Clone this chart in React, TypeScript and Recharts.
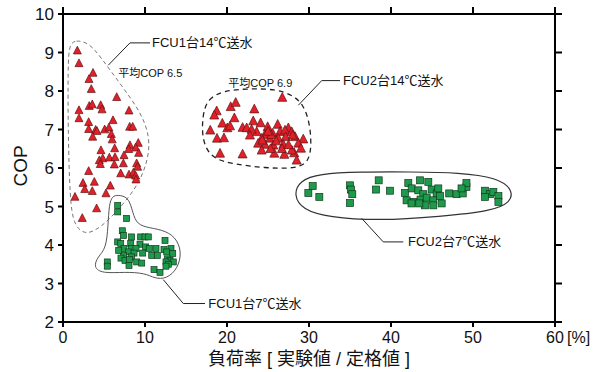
import React from 'react';
import { ScatterChart, Scatter, XAxis, YAxis, ReferenceDot, ReferenceLine } from 'recharts';

type P = { x: number; y: number };
const toPts = (a: number[][]): P[] => a.map(([x, y]) => ({ x, y }));

const xTicks = [0, 10, 20, 30, 40, 50, 60];
const yTicks = [2, 3, 4, 5, 6, 7, 8, 9, 10];

const fcu1_14 = [
  [1.75, 9.05], [1.95, 8.72], [3.66, 8.47], [3.17, 8.31], [3.45, 8.05], [6.55, 7.84], [1.95, 7.5], [1.95, 7.29],
  [3.2, 7.61], [3.57, 7.65], [4.6, 7.63], [4.76, 7.52], [3.13, 7.19], [6.1, 7.24], [8.05, 7.49], [8.13, 7.07],
  [8.5, 7.07], [3.13, 7.01], [3.98, 6.99], [4.14, 6.96], [5.08, 7.0], [5.6, 7.05], [3.62, 6.81], [5.89, 6.88],
  [6.0, 6.74], [4.63, 6.46], [6.3, 6.51], [8.17, 6.59], [9.18, 6.65], [8.86, 6.53], [8.01, 6.49], [7.44, 6.33],
  [9.23, 6.39], [4.84, 6.25], [5.65, 6.27], [6.34, 6.28], [4.43, 6.2], [4.55, 6.1], [6.26, 6.09], [7.36, 6.12],
  [8.98, 6.12], [9.1, 6.03], [3.13, 5.92], [7.04, 5.86], [8.05, 5.83], [8.58, 5.88], [8.86, 5.8], [8.9, 5.7],
  [2.44, 5.61], [3.82, 5.64], [5.77, 5.54], [2.65, 5.45], [3.57, 5.4], [5.24, 5.34], [1.46, 5.25], [2.35, 4.7],
  [4.1, 4.95],
];

const fcu2_14 = [
  [26.74, 7.83], [18.74, 7.48], [18.45, 7.37], [20.45, 7.59], [21.06, 7.7], [23.33, 7.53], [20.9, 7.3], [19.43, 7.16],
  [17.96, 6.98], [20.04, 7.04], [20.37, 7.09], [21.9, 7.05], [22.4, 7.04], [23.2, 7.22], [24.1, 7.17], [24.96, 7.07],
  [26.18, 7.13], [27.48, 7.04], [23.62, 6.94], [24.63, 6.87], [25.57, 6.9], [26.46, 6.94], [27.07, 6.98], [27.89, 6.94],
  [18.78, 6.77], [19.63, 6.78], [24.23, 6.77], [25.24, 6.77], [26.26, 6.77], [27.15, 6.81], [28.3, 6.81], [29.3, 6.75],
  [23.8, 6.64], [24.63, 6.61], [25.65, 6.59], [26.87, 6.61], [28.7, 6.64], [25.77, 6.38], [26.99, 6.35], [28.2, 6.39],
  [19.15, 6.38], [21.9, 6.36], [24.23, 6.46], [29.02, 6.51], [25.4, 6.86], [28.5, 6.2], [27.9, 6.46], [26.0, 6.7],
  [25.0, 6.95], [24.3, 6.72], [26.7, 6.5], [27.5, 6.6], [25.3, 6.5], [28.0, 6.85], [23.0, 7.0], [22.8, 6.85],
];

const fcu2_7 = [
  [30.45, 5.53], [29.92, 5.35], [31.26, 5.25], [35.0, 5.55], [35.12, 5.44], [35.28, 5.32], [35.0, 5.09], [38.5, 5.68],
  [38.17, 5.44], [39.88, 5.41], [42.11, 5.61], [43.54, 5.68], [44.55, 5.64], [41.7, 5.35], [42.52, 5.47], [43.33, 5.42],
  [43.94, 5.32], [44.96, 5.44], [45.57, 5.34], [45.77, 5.47], [41.9, 5.16], [42.8, 5.12], [43.6, 5.18], [44.35, 5.23],
  [45.16, 5.16], [45.98, 5.27], [46.18, 5.08], [45.16, 5.03], [44.15, 5.03], [43.45, 5.08], [42.5, 5.08], [47.1, 5.34],
  [48.0, 5.32], [48.75, 5.34], [49.2, 5.51], [49.2, 5.61], [48.6, 5.47], [51.46, 5.41], [52.07, 5.32], [51.46, 5.25],
  [52.48, 5.38], [53.1, 5.27], [53.1, 5.12],
];

const fcu1_7 = [
  [6.67, 5.03], [6.67, 4.86], [7.76, 4.69], [7.23, 4.37], [7.36, 4.25], [8.37, 4.21], [9.47, 4.21], [10.0, 4.21],
  [10.4, 4.21], [6.67, 4.08], [7.04, 4.04], [8.26, 4.04], [9.39, 4.02], [10.08, 3.95], [12.44, 4.12], [7.44, 3.91],
  [8.37, 3.91], [8.9, 3.91], [10.52, 3.91], [11.34, 3.91], [12.32, 3.88], [13.17, 3.91], [7.96, 3.82], [8.66, 3.79],
  [9.72, 3.79], [10.82, 3.73], [11.5, 3.73], [12.65, 3.82], [13.38, 3.78], [7.36, 3.73], [8.37, 3.69], [7.07, 3.66],
  [7.56, 3.6], [8.09, 3.62], [8.99, 3.56], [9.6, 3.53], [12.72, 3.64], [13.05, 3.6], [13.45, 3.56], [12.56, 3.56],
  [12.84, 3.5], [8.05, 3.47], [5.4, 3.56], [5.4, 3.45], [12.56, 3.45], [11.1, 3.36], [11.83, 3.29], [6.79, 3.86],
];

// outline control points (annotation shapes)
const outline1_14 = [
  [0.75, 9.2], [1.5, 9.33], [3.2, 9.25], [4.7, 8.85], [7.1, 8.15], [9.5, 7.45], [10.6, 6.81], [10.4, 6.25],
  [9.5, 5.72], [8.2, 5.28], [5.7, 4.66], [3.7, 4.33], [2.4, 4.3], [1.3, 4.55], [0.85, 5.16], [0.62, 6.91], [0.6, 8.63],
];
const outline2_14 = [
  [17.0, 7.35], [17.6, 7.8], [19.7, 8.02], [22.8, 8.06], [25.9, 8.05], [28.0, 7.9], [29.3, 7.65], [30.05, 7.2],
  [30.3, 6.67], [30.05, 6.15], [28.3, 5.98], [24.6, 6.0], [20.9, 6.1], [18.1, 6.24], [16.95, 6.72],
];
const outline2_7 = [
  [28.1, 5.3], [28.9, 5.68], [31.2, 5.85], [36.2, 5.9], [42.3, 5.9], [48.4, 5.88], [52.9, 5.75], [54.85, 5.45],
  [54.6, 5.1], [52.2, 4.88], [46.0, 4.74], [38.6, 4.63], [32.4, 4.72], [29.2, 4.92],
];
const outline1_7 = [
  [6.71, 5.3], [7.9, 5.25], [8.4, 4.95], [8.85, 4.58], [10.0, 4.46], [12.1, 4.4], [13.7, 4.22], [14.5, 3.83],
  [14.0, 3.38], [12.6, 3.12], [11.2, 3.13], [10.0, 3.27], [7.56, 3.3], [4.8, 3.26], [3.7, 3.42], [4.25, 3.7],
  [5.25, 3.9], [5.5, 4.51], [5.62, 5.05], [6.0, 5.27],
];

// leader lines
const lead1_14 = [[10.61, 9.25], [8.17, 9.25], [5.52, 8.67]];
const lead2_14 = [[33.78, 8.27], [31.55, 8.27], [28.7, 7.63]];
const lead2_7 = [[41.5, 4.08], [39.06, 4.08], [36.43, 4.69]];
const lead1_7 = [[17.32, 2.48], [14.67, 2.48], [12.23, 3.1]];

const FONT = '"Liberation Sans", Arial, "Noto Sans CJK JP", sans-serif';
const RED = '#e3202a';
const RED_STROKE = '#5e1212';
const GREEN = '#1f9a4c';
const GREEN_STROKE = '#0d3b1d';

// plot frame (chart margins): top edge and right edge in pixels
const PLOT_TOP = 14;
const PLOT_RIGHT = 604 - 49;
const FRAME_TICK = 7;

const triangle = (s: number) => (p: any) => {
  const { cx, cy } = p;
  const pts = `${cx},${cy - s * 0.55} ${cx - s / 2},${cy + s * 0.42} ${cx + s / 2},${cy + s * 0.42}`;
  return <polygon points={pts} fill={RED} stroke={RED_STROKE} strokeWidth={0.7} />;
};
const square = (s: number) => (p: any) => {
  const { cx, cy } = p;
  return <rect x={cx - s / 2} y={cy - s / 2} width={s} height={s} fill={GREEN} stroke={GREEN_STROKE} strokeWidth={0.7} />;
};
const none = () => <g />;

const txt = (t: string, size: number) => (p: any) => (
  <text x={p.cx} y={p.cy} fontSize={size} fontFamily={FONT} fill="#111" dominantBaseline="central">
    {t}
  </text>
);

// bottom tick label + matching outward tick on the top frame
const XTick = (p: any) => {
  const { x, y, payload } = p;
  return (
    <g>
      <line x1={x} x2={x} y1={PLOT_TOP} y2={PLOT_TOP - FRAME_TICK} stroke="#000" strokeWidth={2} />
      <text x={x} y={y} dy="0.71em" textAnchor="middle" fontSize={16} fontFamily={FONT} fill="#111">
        {payload.value}
      </text>
      {payload.value === 60 && (
        <text x={x + 12} y={y} dy="0.71em" textAnchor="start" fontSize={16} fontFamily={FONT} fill="#111">
          [%]
        </text>
      )}
    </g>
  );
};

// left tick label + matching outward tick on the right frame
const YTick = (p: any) => {
  const { x, y, payload } = p;
  return (
    <g>
      <line x1={PLOT_RIGHT} x2={PLOT_RIGHT + FRAME_TICK} y1={y} y2={y} stroke="#000" strokeWidth={2} />
      <text x={x} y={y} dy="0.355em" textAnchor="end" fontSize={17} fontFamily={FONT} fill="#111">
        {payload.value}
      </text>
    </g>
  );
};

export default function App() {
  return (
    <div style={{ position: 'absolute', left: 0, top: 0, background: '#fff' }}>
      <ScatterChart width={604} height={372} margin={{ top: 14, right: 49, bottom: 0, left: 0 }}>
        <XAxis
          type="number"
          dataKey="x"
          domain={[0, 60]}
          ticks={xTicks}
          interval={0}
          height={50}
          tickSize={5}
          tickMargin={5}
          axisLine={{ stroke: '#000', strokeWidth: 2 }}
          tickLine={{ stroke: '#000', strokeWidth: 2 }}
          tick={<XTick />}
          label={{
            content: () => (
              <text x={309} y={359} textAnchor="middle" dominantBaseline="central" fontSize={18} fontFamily={FONT} fill="#111">
                負荷率 [ 実験値 / 定格値 ]
              </text>
            ),
          }}
        />
        <YAxis
          type="number"
          dataKey="y"
          domain={[2, 10]}
          ticks={yTicks}
          interval={0}
          width={63}
          tickSize={5}
          tickMargin={4}
          axisLine={{ stroke: '#000', strokeWidth: 2 }}
          tickLine={{ stroke: '#000', strokeWidth: 2 }}
          tick={<YTick />}
          label={{
            content: () => (
              <text
                x={20}
                y={166}
                transform="rotate(-90 20 166)"
                textAnchor="middle"
                dominantBaseline="central"
                fontSize={19}
                fontFamily={FONT}
                fill="#111"
              >
                COP
              </text>
            ),
          }}
        />

        {/* frame: top and right borders */}
        <ReferenceLine y={10} stroke="#000" strokeWidth={2} ifOverflow="visible" />
        <ReferenceLine x={60} stroke="#000" strokeWidth={2} ifOverflow="visible" />

        <Scatter data={toPts(outline1_14)} shape={none} line={{ stroke: '#777', strokeWidth: 1, strokeDasharray: '4 3' }} lineJointType="basisClosed" isAnimationActive={false} />
        <Scatter data={toPts(outline2_14)} shape={none} line={{ stroke: '#222', strokeWidth: 1.3, strokeDasharray: '5 4' }} lineJointType="basisClosed" isAnimationActive={false} />
        <Scatter data={toPts(outline2_7)} shape={none} line={{ stroke: '#333', strokeWidth: 1.2 }} lineJointType="basisClosed" isAnimationActive={false} />
        <Scatter data={toPts(outline1_7)} shape={none} line={{ stroke: '#555', strokeWidth: 1 }} lineJointType="basisClosed" isAnimationActive={false} />

        <Scatter data={toPts(lead1_14)} shape={none} line={{ stroke: '#222', strokeWidth: 1 }} lineJointType="linear" isAnimationActive={false} />
        <Scatter data={toPts(lead2_14)} shape={none} line={{ stroke: '#222', strokeWidth: 1 }} lineJointType="linear" isAnimationActive={false} />
        <Scatter data={toPts(lead2_7)} shape={none} line={{ stroke: '#222', strokeWidth: 1 }} lineJointType="linear" isAnimationActive={false} />
        <Scatter data={toPts(lead1_7)} shape={none} line={{ stroke: '#222', strokeWidth: 1 }} lineJointType="linear" isAnimationActive={false} />

        <Scatter name="FCU1台14℃送水" data={toPts(fcu1_14)} shape={triangle(8)} isAnimationActive={false} />
        <Scatter name="FCU2台14℃送水" data={toPts(fcu2_14)} shape={triangle(9)} isAnimationActive={false} />
        <Scatter name="FCU2台7℃送水" data={toPts(fcu2_7)} shape={square(7)} isAnimationActive={false} />
        <Scatter name="FCU1台7℃送水" data={toPts(fcu1_7)} shape={square(6)} isAnimationActive={false} />

        <ReferenceDot x={10.85} y={9.25} r={1} shape={txt('FCU1台14℃送水', 13)} />
        <ReferenceDot x={6.74} y={8.46} r={1} shape={txt('平均COP 6.5', 11)} />
        <ReferenceDot x={20.16} y={8.2} r={1} shape={txt('平均COP 6.9', 11)} />
        <ReferenceDot x={34.15} y={8.27} r={1} shape={txt('FCU2台14℃送水', 13)} />
        <ReferenceDot x={42.07} y={4.08} r={1} shape={txt('FCU2台7℃送水', 13)} />
        <ReferenceDot x={17.72} y={2.48} r={1} shape={txt('FCU1台7℃送水', 13)} />
      </ScatterChart>
    </div>
  );
}
